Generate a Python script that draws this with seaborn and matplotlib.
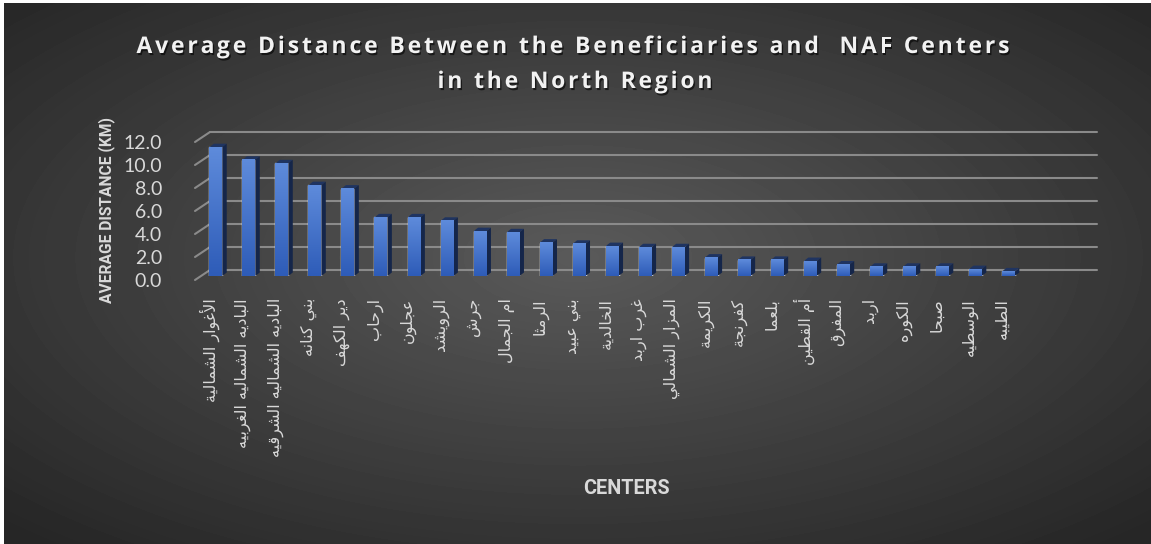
import numpy as np
import pandas as pd
import matplotlib
matplotlib.use("Agg")
import matplotlib.pyplot as plt
import seaborn as sns
from matplotlib import transforms as mtransforms
from matplotlib.patches import Polygon
import matplotlib.patheffects as pe

# ---------------- data ----------------
centers = [
    "الأغوار الشمالية", "الباديه الشماليه الغربيه", "الباديه الشماليه الشرقيه",
    "بني كنانه", "دير الكهف", "ارحاب", "عجلون", "الرويشد", "جرش", "ام الجمال",
    "الرمثا", "بني عبيد", "الخالدية", "غرب اربد", "المزار الشمالي", "الكريمة",
    "كفرنجة", "بلعما", "أم القطين", "المفرق", "اربد", "الكوره", "صبحا",
    "الوسطيه", "الطيبه",
]
distance_km = [11.2, 10.1, 9.8, 7.9, 7.6, 5.1, 5.1, 4.8, 3.9, 3.8,
               2.9, 2.8, 2.6, 2.5, 2.5, 1.6, 1.4, 1.4, 1.3, 1.0,
               0.8, 0.8, 0.8, 0.6, 0.4]
y_ticks = [0, 2, 4, 6, 8, 10, 12]
y_tick_labels = ["0.0", "2.0", "4.0", "6.0", "8.0", "10.0", "12.0"]
title_lines = ["Average Distance Between the Beneficiaries and  NAF Centers",
               "in the North Region"]
x_title = "CENTERS"
y_title = "AVERAGE DISTANCE (KM)"

# ---------------- Arabic shaping (presentation forms, visual order) ----------------
FORMS = {
    'ء': (0xFE80, None, None, None),
    'آ': (0xFE81, 0xFE82, None, None), 'أ': (0xFE83, 0xFE84, None, None),
    'ؤ': (0xFE85, 0xFE86, None, None), 'إ': (0xFE87, 0xFE88, None, None),
    'ئ': (0xFE89, 0xFE8A, 0xFE8B, 0xFE8C), 'ا': (0xFE8D, 0xFE8E, None, None),
    'ب': (0xFE8F, 0xFE90, 0xFE91, 0xFE92), 'ة': (0xFE93, 0xFE94, None, None),
    'ت': (0xFE95, 0xFE96, 0xFE97, 0xFE98), 'ث': (0xFE99, 0xFE9A, 0xFE9B, 0xFE9C),
    'ج': (0xFE9D, 0xFE9E, 0xFE9F, 0xFEA0), 'ح': (0xFEA1, 0xFEA2, 0xFEA3, 0xFEA4),
    'خ': (0xFEA5, 0xFEA6, 0xFEA7, 0xFEA8), 'د': (0xFEA9, 0xFEAA, None, None),
    'ذ': (0xFEAB, 0xFEAC, None, None), 'ر': (0xFEAD, 0xFEAE, None, None),
    'ز': (0xFEAF, 0xFEB0, None, None), 'س': (0xFEB1, 0xFEB2, 0xFEB3, 0xFEB4),
    'ش': (0xFEB5, 0xFEB6, 0xFEB7, 0xFEB8), 'ص': (0xFEB9, 0xFEBA, 0xFEBB, 0xFEBC),
    'ض': (0xFEBD, 0xFEBE, 0xFEBF, 0xFEC0), 'ط': (0xFEC1, 0xFEC2, 0xFEC3, 0xFEC4),
    'ظ': (0xFEC5, 0xFEC6, 0xFEC7, 0xFEC8), 'ع': (0xFEC9, 0xFECA, 0xFECB, 0xFECC),
    'غ': (0xFECD, 0xFECE, 0xFECF, 0xFED0), 'ف': (0xFED1, 0xFED2, 0xFED3, 0xFED4),
    'ق': (0xFED5, 0xFED6, 0xFED7, 0xFED8), 'ك': (0xFED9, 0xFEDA, 0xFEDB, 0xFEDC),
    'ل': (0xFEDD, 0xFEDE, 0xFEDF, 0xFEE0), 'م': (0xFEE1, 0xFEE2, 0xFEE3, 0xFEE4),
    'ن': (0xFEE5, 0xFEE6, 0xFEE7, 0xFEE8), 'ه': (0xFEE9, 0xFEEA, 0xFEEB, 0xFEEC),
    'و': (0xFEED, 0xFEEE, None, None), 'ى': (0xFEEF, 0xFEF0, None, None),
    'ي': (0xFEF1, 0xFEF2, 0xFEF3, 0xFEF4),
}
LAMALEF = {'آ': (0xFEF5, 0xFEF6), 'أ': (0xFEF7, 0xFEF8),
           'إ': (0xFEF9, 0xFEFA), 'ا': (0xFEFB, 0xFEFC)}
DUAL = {c for c, f in FORMS.items() if f[2] is not None}
JOINING = {c for c, f in FORMS.items() if f[1] is not None}


def shape_ar(s):
    out = []
    i, n = 0, len(s)
    while i < n:
        c = s[i]
        prev = s[i - 1] if i > 0 else None
        if c == 'ل' and i + 1 < n and s[i + 1] in LAMALEF:
            iso, fin = LAMALEF[s[i + 1]]
            out.append(chr(fin if prev in DUAL else iso))
            i += 2
            continue
        if c not in FORMS:
            out.append(c)
            i += 1
            continue
        nxt = s[i + 1] if i + 1 < n else None
        cp = prev in DUAL and c in JOINING
        cn = c in DUAL and nxt in JOINING
        iso, fin, ini, med = FORMS[c]
        if cp and cn:
            g = med
        elif cp:
            g = fin
        elif cn:
            g = ini
        else:
            g = iso
        out.append(chr(g))
        i += 1
    return ''.join(reversed(out))


# ---------------- style ----------------
sns.set_theme(style="white")
plt.rcParams['font.family'] = ['Lato', 'DejaVu Sans']

W, H = 1151, 544
fig = plt.figure(figsize=(W / 100, H / 100), dpi=100, facecolor='white')

# radial dark background
bw, bh = W - 4, H - 3
yy, xx = np.mgrid[0:bh, 0:bw]
r = np.sqrt(((xx - 0.5 * bw) / (0.5 * bw)) ** 2 + ((yy - 0.47 * bh) / (0.5 * bh)) ** 2) / np.sqrt(2)
val = 90 - 52 * np.clip(r, 0, 1)
bg = fig.add_axes([4 / W, 0, bw / W, bh / H])
bg.imshow(val, cmap='gray', vmin=0, vmax=255, aspect='auto', interpolation='bilinear')
bg.axis('off')

ax = fig.add_axes([201 / W, (H - 276) / H, 887 / W, 138 / H])
ax.set_facecolor('none')

df = pd.DataFrame({"center": centers, "distance": distance_km})
sns.barplot(data=df, x="center", y="distance", color="#3F6FCB", width=0.39,
            saturation=1, ax=ax, zorder=3)

XL = (-0.448, 26.41)
ax.set_xlim(*XL)
ax.set_ylim(0, 12)
ax.autoscale(False)
for s in ax.spines.values():
    s.set_visible(False)
ax.set_xlabel("")
ax.set_ylabel("")
ax.tick_params(length=0)

grid_c = "#8A8A8A"
text_c = "#D9D9D9"
ident = mtransforms.IdentityTransform()

# back-wall gridlines and left-wall diagonals
back = mtransforms.offset_copy(ax.transData, fig=fig, x=9, y=6, units='dots')
for v in y_ticks:
    ax.plot(XL, [v, v], transform=back, color=grid_c, lw=1.5, zorder=1, clip_on=False)
    p = ax.transData.transform((XL[0], v))
    ax.plot([p[0] - 6, p[0] + 9], [p[1] - 4, p[1] + 6], transform=ident,
            color=grid_c, lw=1.5, zorder=1, clip_on=False)

# bar faces: gradient front, dark top and side
top_c = np.array([0x5E, 0x8B, 0xDB]) / 255
bot_c = np.array([0x2E, 0x5C, 0xB8]) / 255
grad = np.linspace(0, 1, 64)[:, None, None]
grad_img = top_c[None, None, :] * (1 - grad) + bot_c[None, None, :] * grad
dx, dy = 4.5, 3.5
for pch in list(ax.patches):
    x, w, h = pch.get_x(), pch.get_width(), pch.get_height()
    ax.imshow(grad_img, extent=[x, x + w, 0, h], aspect='auto', zorder=3.5,
              interpolation='bilinear')
    a = ax.transData.transform((x, h))
    b = ax.transData.transform((x + w, h))
    c = ax.transData.transform((x + w, 0))
    d = np.array([dx, dy])
    ax.add_patch(Polygon([a, b, b + d, a + d], closed=True, transform=ident,
                         facecolor="#1F3461", edgecolor='none', zorder=3.2, clip_on=False))
    ax.add_patch(Polygon([b, c, c + d, b + d], closed=True, transform=ident,
                         facecolor="#15264A", edgecolor='none', zorder=3.2, clip_on=False))
ax.set_xlim(*XL)
ax.set_ylim(0, 12)

# ticks
ax.set_xticks(range(len(centers)))
ax.set_xticklabels([shape_ar(c) for c in centers], rotation=90, fontsize=11.5,
                   color=text_c, family='DejaVu Sans', ha='center', va='top')
ax.tick_params(axis='x', pad=13)
ax.set_yticks(y_ticks)
ax.set_yticklabels(y_tick_labels, fontsize=14, color=text_c)
ax.tick_params(axis='y', pad=28)
for lab in ax.get_xticklabels():
    lab.set_transform(lab.get_transform() +
                      mtransforms.ScaledTranslation(-6 / 100, -4 / 100, fig.dpi_scale_trans))
for lab in ax.get_yticklabels():
    lab.set_transform(lab.get_transform() +
                      mtransforms.ScaledTranslation(0, -4 / 100, fig.dpi_scale_trans))

renderer = fig.canvas.get_renderer()


def fitted_text(x, y, s, target_len, rotation=0, **kw):
    t = fig.text(x / W, 1 - y / H, s, ha='center', va='center', rotation=rotation, **kw)
    bb = t.get_window_extent(renderer)
    cur = bb.height if rotation else bb.width
    t.set_fontsize(t.get_fontsize() * target_len / cur)
    return t


# axis titles (bold)
akw = dict(fontsize=13, fontweight='bold', color=text_c, family='Roboto')
fitted_text(626, 488, x_title, 86, **akw)
fitted_text(107, 210, y_title, 186, rotation=90, **akw)

# tracked title
tkw = dict(fontsize=16.5, fontweight='bold', color='#F2F2F2', family='Open Sans')
shadow = [pe.withSimplePatchShadow(offset=(1, -1.5), shadow_rgbFace='black', alpha=0.6)]


def width_px(t):
    tt = fig.text(0, 0, t, **tkw)
    bb = tt.get_window_extent(renderer)
    tt.remove()
    return bb.width


def tracked(s, xc, ybase, target):
    bar = width_px('|')
    adv = [width_px(s[:k] + '|') - bar if k else 0.0 for k in range(len(s))]
    nat = width_px(s)
    track = (target - nat) / (len(s) - 1)
    x0 = xc - target / 2
    for k, ch in enumerate(s):
        if ch == ' ':
            continue
        fig.text((x0 + adv[k] + k * track) / W, 1 - ybase / H, ch, ha='left',
                 va='baseline', path_effects=shadow, **tkw)


tracked(title_lines[0], 573, 53, 873)
tracked(title_lines[1], 575, 88, 275)

fig.savefig("out.png", dpi=100, facecolor=fig.get_facecolor())
